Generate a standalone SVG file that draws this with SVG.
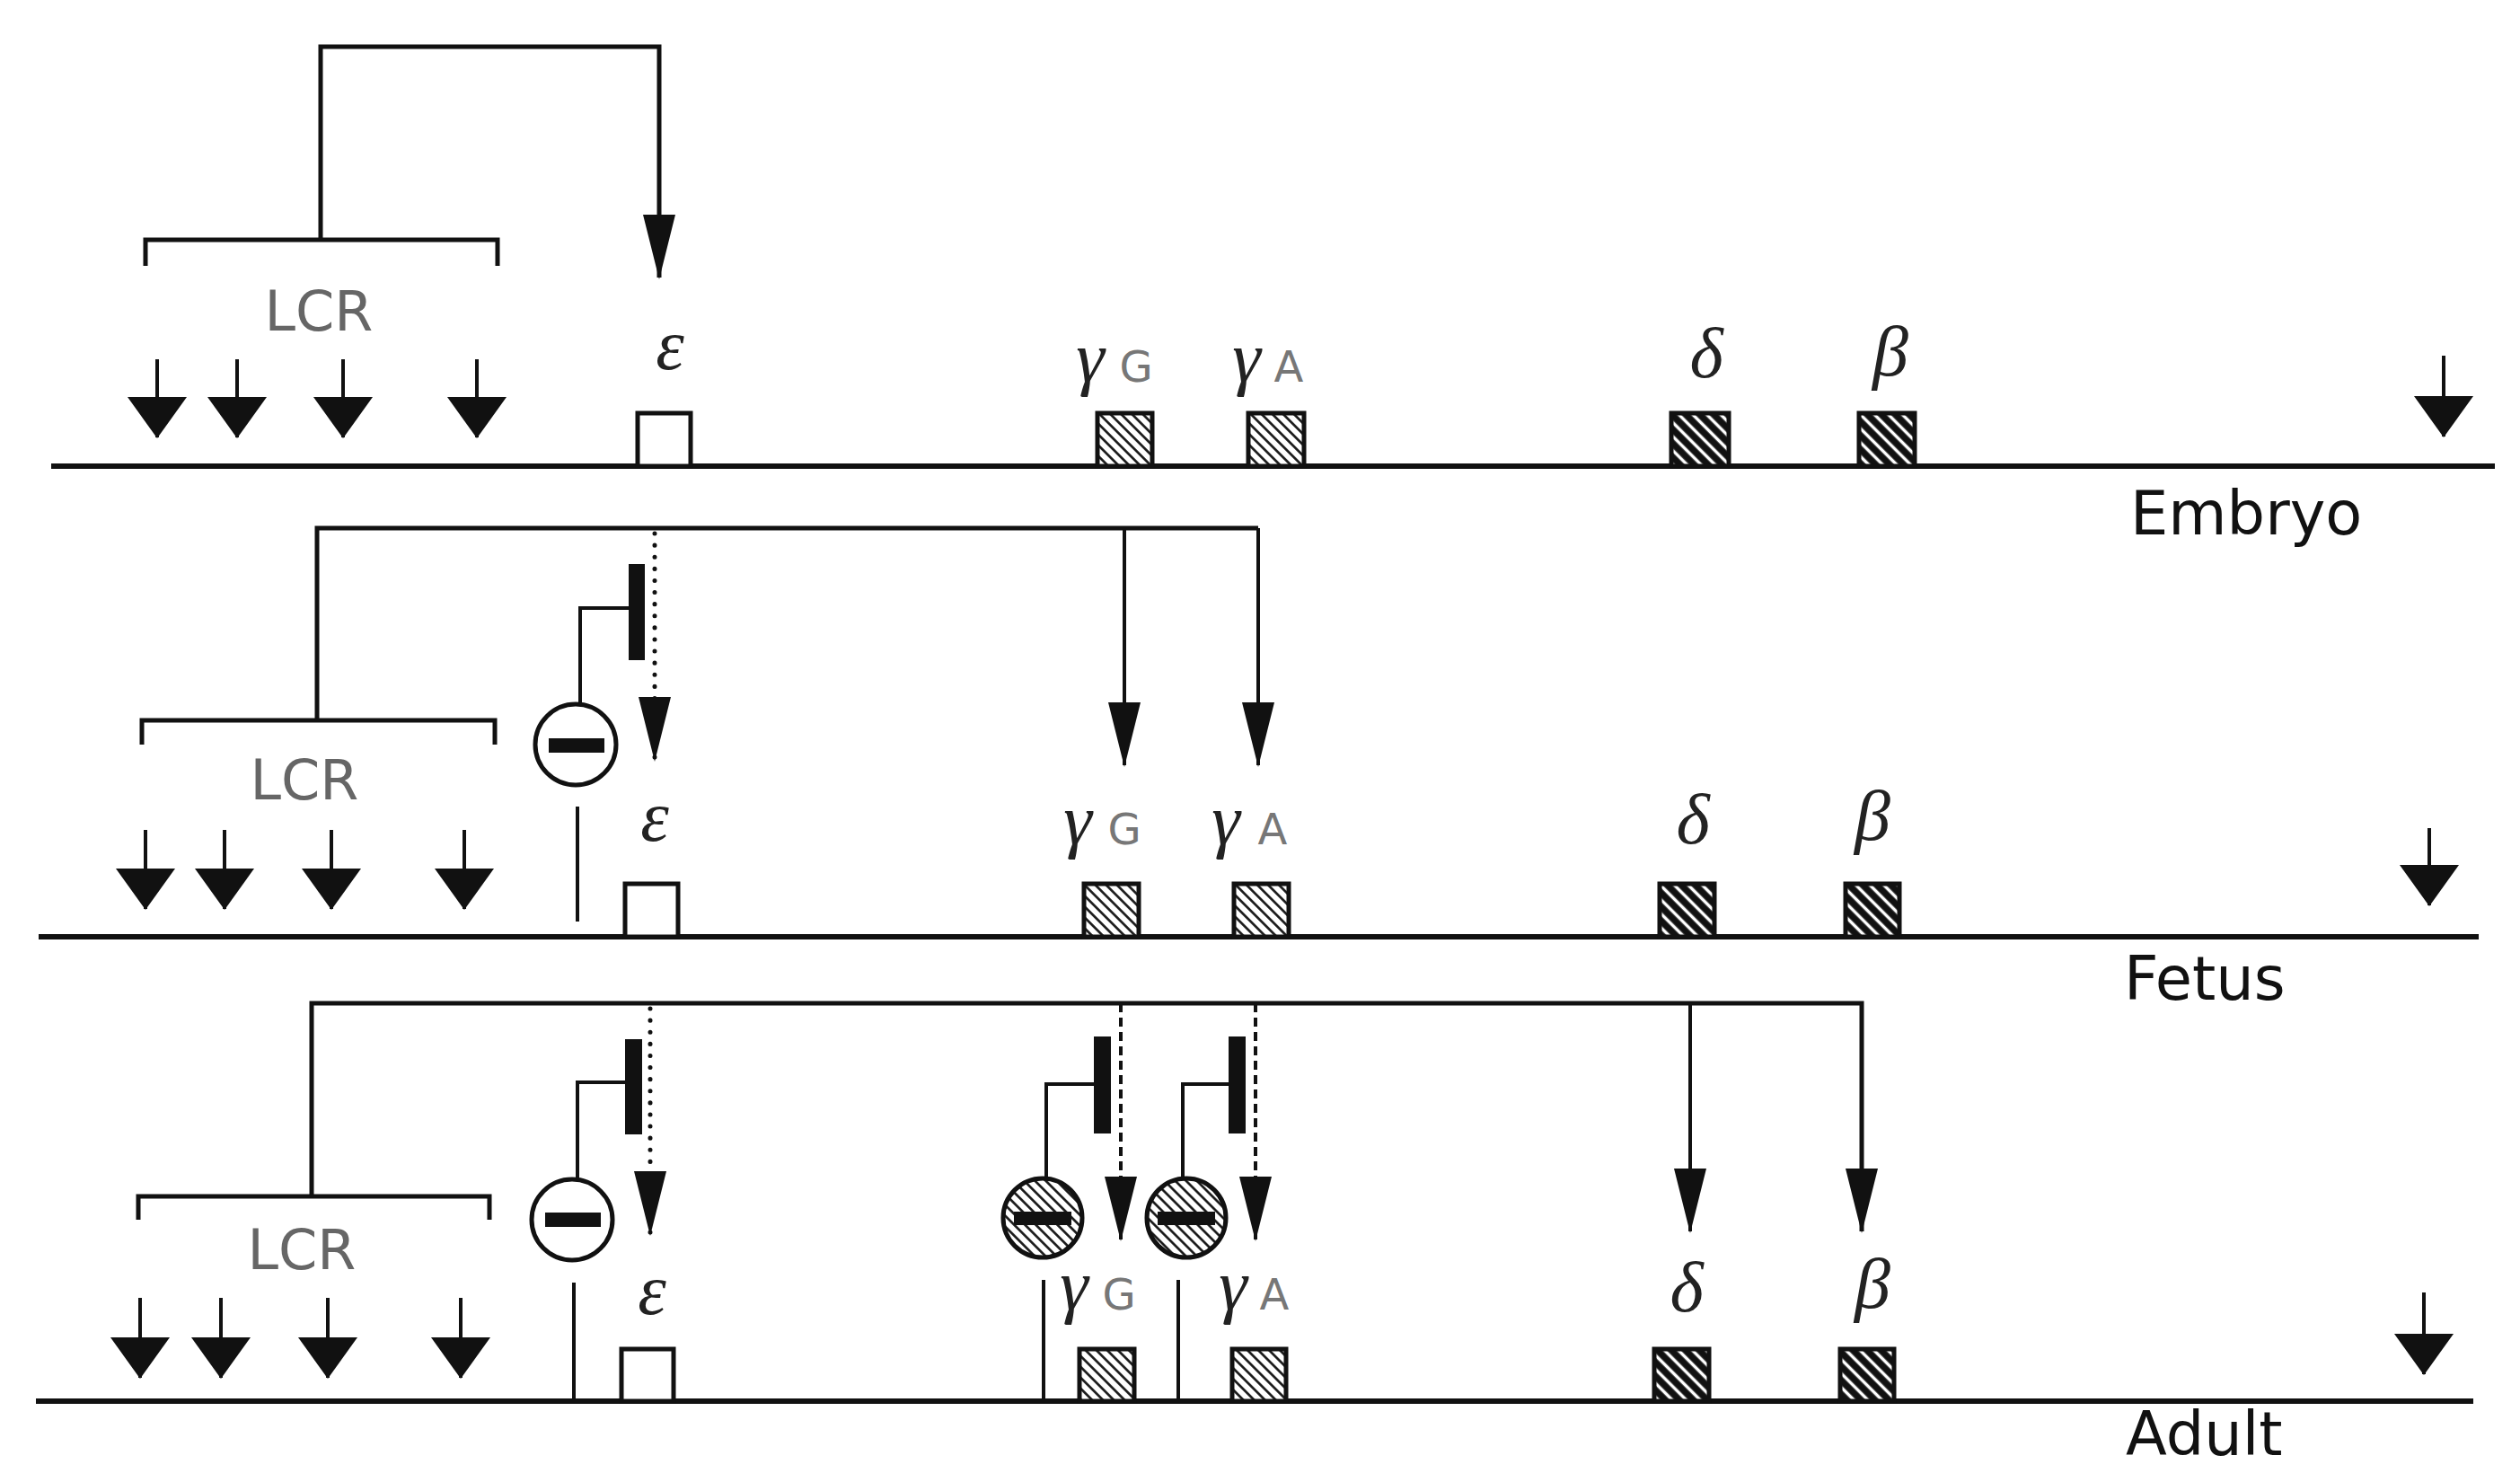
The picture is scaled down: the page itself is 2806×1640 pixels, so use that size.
<svg xmlns="http://www.w3.org/2000/svg" width="2806" height="1640" viewBox="0 0 2806 1640">
<style>
.dna{stroke:#111;stroke-width:6;fill:none}
.br{stroke:#111;stroke-width:5;fill:none}
.ln{stroke:#111;stroke-width:4;fill:none}
.dot{stroke:#111;stroke-width:5;fill:none;stroke-dasharray:0.1 13;stroke-linecap:round}
.dash{stroke:#111;stroke-width:4;fill:none;stroke-dasharray:10 6}
.gw{fill:#fff;stroke:#111;stroke-width:5}
.gl{fill:url(#hl);stroke:#111;stroke-width:5}
.gd{fill:url(#hd);stroke:#111;stroke-width:5}
.circ{stroke:#111;stroke-width:5}
.bar{fill:#111}
.gk{font-family:"Liberation Serif","DejaVu Serif",serif;font-style:italic;font-size:80px;fill:#222;text-anchor:middle}
.sub{font-family:"DejaVu Sans","Liberation Sans",sans-serif;font-size:48px;fill:#777;text-anchor:middle}
.lcr{font-family:"DejaVu Sans","Liberation Sans",sans-serif;font-size:62px;fill:#666;text-anchor:middle}
.stage{font-family:"DejaVu Sans","Liberation Sans",sans-serif;font-size:67px;fill:#111}
</style>
<defs>
<pattern id="hl" patternUnits="userSpaceOnUse" width="8.5" height="8.5" patternTransform="rotate(-45)">
<rect width="8.5" height="8.5" fill="#fff"/>
<line x1="4.25" y1="0" x2="4.25" y2="8.5" stroke="#111" stroke-width="2.6"/>
</pattern>
<pattern id="hd" patternUnits="userSpaceOnUse" width="11" height="11" patternTransform="rotate(-45)">
<rect width="11" height="11" fill="#111"/>
<line x1="5.5" y1="0" x2="5.5" y2="11" stroke="#fff" stroke-width="3.5"/>
</pattern>
<marker id="ah" viewBox="0 0 72 36" refX="70" refY="18" markerWidth="72" markerHeight="36" markerUnits="userSpaceOnUse" orient="auto">
<path d="M0,0 L72,18 L0,36 Z" fill="#111"/>
</marker>
<marker id="ahb" viewBox="0 0 46 66" refX="45" refY="33" markerWidth="46" markerHeight="66" markerUnits="userSpaceOnUse" orient="auto">
<path d="M0,0 L46,33 L0,66 Z" fill="#111"/>
</marker>
</defs>
<rect width="2806" height="1640" fill="#fff"/>

<!-- ========== EMBRYO ========== -->
<g id="embryo-dna"><line class="dna" x1="57" y1="519" x2="2778" y2="519"/></g>
<g id="embryo-lcr">
<path class="br" d="M162,296 V267 H554 V296"/>
<text class="lcr" x="355" y="368">LCR</text>
</g>
<g id="embryo-epsilon"><rect class="gw" x="710" y="460" width="59" height="59"/><text class="gk" x="746" y="411">ε</text></g>
<g id="embryo-gammaG"><rect class="gl" x="1222" y="460" width="61" height="59"/><text><tspan class="gk" x="1214" y="425">γ</tspan><tspan class="sub" x="1265" y="425">G</tspan></text></g>
<g id="embryo-gammaA"><rect class="gl" x="1390" y="460" width="62" height="59"/><text><tspan class="gk" x="1388" y="425">γ</tspan><tspan class="sub" x="1435" y="425">A</tspan></text></g>
<g id="embryo-delta"><rect class="gd" x="1861" y="460" width="64" height="59"/><text class="gk" x="1900" y="420">δ</text></g>
<g id="embryo-beta"><rect class="gd" x="2070" y="460" width="62" height="59"/><text class="gk" x="2105" y="418">β</text></g>
<g id="embryo-label"><text class="stage" x="2372" y="595">Embryo</text></g>

<!-- ========== FETUS ========== -->
<g id="fetus-dna"><line class="dna" x1="43" y1="1043" x2="2760" y2="1043"/></g>
<g id="fetus-lcr">
<path class="br" d="M158,829 V802 H551 V829"/>
<text class="lcr" x="339" y="890">LCR</text>
</g>
<g id="fetus-epsilon"><rect class="gw" x="696" y="984" width="59" height="59"/><text class="gk" x="729" y="936">ε</text></g>
<g id="fetus-gammaG"><rect class="gl" x="1207" y="984" width="61" height="59"/><text><tspan class="gk" x="1200" y="940">γ</tspan><tspan class="sub" x="1252" y="940">G</tspan></text></g>
<g id="fetus-gammaA"><rect class="gl" x="1374" y="984" width="61" height="59"/><text><tspan class="gk" x="1365" y="940">γ</tspan><tspan class="sub" x="1417" y="940">A</tspan></text></g>
<g id="fetus-delta"><rect class="gd" x="1848" y="984" width="61" height="59"/><text class="gk" x="1885" y="939">δ</text></g>
<g id="fetus-beta"><rect class="gd" x="2055" y="984" width="60" height="59"/><text class="gk" x="2085" y="935">β</text></g>
<g id="fetus-repressor-epsilon">
<circle class="circ" cx="641" cy="829" r="45" fill="#fff"/>
<rect class="bar" x="611" y="822" width="62" height="16"/>
<rect class="bar" x="700" y="628" width="18" height="107"/>
</g>
<g id="fetus-label"><text class="stage" x="2365" y="1113">Fetus</text></g>

<!-- ========== ADULT ========== -->
<g id="adult-dna"><line class="dna" x1="40" y1="1560" x2="2754" y2="1560"/></g>
<g id="adult-lcr">
<path class="br" d="M154,1358 V1332 H545 V1358"/>
<text class="lcr" x="336" y="1413">LCR</text>
</g>
<g id="adult-epsilon"><rect class="gw" x="692" y="1502" width="58" height="58"/><text class="gk" x="726" y="1463">ε</text></g>
<g id="adult-gammaG"><rect class="gl" x="1202" y="1502" width="61" height="58"/><text><tspan class="gk" x="1196" y="1458">γ</tspan><tspan class="sub" x="1246" y="1458">G</tspan></text></g>
<g id="adult-gammaA"><rect class="gl" x="1372" y="1502" width="60" height="58"/><text><tspan class="gk" x="1373" y="1458">γ</tspan><tspan class="sub" x="1419" y="1458">A</tspan></text></g>
<g id="adult-delta"><rect class="gd" x="1842" y="1502" width="61" height="58"/><text class="gk" x="1878" y="1460">δ</text></g>
<g id="adult-beta"><rect class="gd" x="2049" y="1502" width="60" height="58"/><text class="gk" x="2085" y="1456">β</text></g>
<g id="adult-repressor-epsilon">
<circle class="circ" cx="637" cy="1358" r="45" fill="#fff"/>
<rect class="bar" x="607" y="1350" width="62" height="16"/>
<rect class="bar" x="696" y="1157" width="19" height="106"/>
</g>
<g id="adult-repressor-gammaG">
<circle class="circ" cx="1161" cy="1356" r="44" fill="url(#hl)"/>
<rect class="bar" x="1129" y="1349" width="64" height="15"/>
<rect class="bar" x="1218" y="1154" width="19" height="108"/>
</g>
<g id="adult-repressor-gammaA">
<circle class="circ" cx="1321" cy="1356" r="44" fill="url(#hl)"/>
<rect class="bar" x="1289" y="1349" width="64" height="15"/>
<rect class="bar" x="1368" y="1154" width="19" height="108"/>
</g>
<g id="adult-label"><text class="stage" x="2367" y="1620" font-size="64">Adult</text></g>

<!-- ========== CONNECTORS ========== -->
<g id="connectors">
<!-- embryo -->
<path class="br" d="M357,267 V52 H734 V309" marker-end="url(#ah)"/>
<line class="ln" x1="175" y1="400" x2="175" y2="487" marker-end="url(#ahb)"/>
<line class="ln" x1="264" y1="400" x2="264" y2="487" marker-end="url(#ahb)"/>
<line class="ln" x1="382" y1="400" x2="382" y2="487" marker-end="url(#ahb)"/>
<line class="ln" x1="531" y1="400" x2="531" y2="487" marker-end="url(#ahb)"/>
<line class="ln" x1="2721" y1="396" x2="2721" y2="486" marker-end="url(#ahb)"/>
<!-- fetus -->
<path class="br" d="M353,802 V588 H1401"/>
<line class="dot" x1="729" y1="594" x2="729" y2="846" marker-end="url(#ah)"/>
<line class="ln" x1="1252" y1="588" x2="1252" y2="852" marker-end="url(#ah)"/>
<line class="ln" x1="1401" y1="588" x2="1401" y2="852" marker-end="url(#ah)"/>
<line class="ln" x1="162" y1="924" x2="162" y2="1012" marker-end="url(#ahb)"/>
<line class="ln" x1="250" y1="924" x2="250" y2="1012" marker-end="url(#ahb)"/>
<line class="ln" x1="369" y1="924" x2="369" y2="1012" marker-end="url(#ahb)"/>
<line class="ln" x1="517" y1="924" x2="517" y2="1012" marker-end="url(#ahb)"/>
<line class="ln" x1="2705" y1="922" x2="2705" y2="1008" marker-end="url(#ahb)"/>
<path class="ln" d="M646,784 V677 H701"/>
<line class="ln" x1="643" y1="898" x2="643" y2="1026"/>
<!-- adult -->
<path class="br" d="M347,1332 V1117 H2073 V1371" marker-end="url(#ah)"/>
<line class="dot" x1="724" y1="1123" x2="724" y2="1374" marker-end="url(#ah)"/>
<line class="dash" x1="1248" y1="1117" x2="1248" y2="1380" marker-end="url(#ah)"/>
<line class="dash" x1="1398" y1="1117" x2="1398" y2="1380" marker-end="url(#ah)"/>
<line class="ln" x1="1882" y1="1117" x2="1882" y2="1371" marker-end="url(#ah)"/>
<line class="ln" x1="156" y1="1445" x2="156" y2="1534" marker-end="url(#ahb)"/>
<line class="ln" x1="246" y1="1445" x2="246" y2="1534" marker-end="url(#ahb)"/>
<line class="ln" x1="365" y1="1445" x2="365" y2="1534" marker-end="url(#ahb)"/>
<line class="ln" x1="513" y1="1445" x2="513" y2="1534" marker-end="url(#ahb)"/>
<line class="ln" x1="2699" y1="1439" x2="2699" y2="1530" marker-end="url(#ahb)"/>
<path class="ln" d="M643,1313 V1205 H696"/>
<line class="ln" x1="639" y1="1428" x2="639" y2="1560"/>
<path class="ln" d="M1165,1312 V1207 H1218"/>
<line class="ln" x1="1162" y1="1425" x2="1162" y2="1560"/>
<path class="ln" d="M1317,1312 V1207 H1368"/>
<line class="ln" x1="1312" y1="1425" x2="1312" y2="1560"/>
</g>
</svg>
